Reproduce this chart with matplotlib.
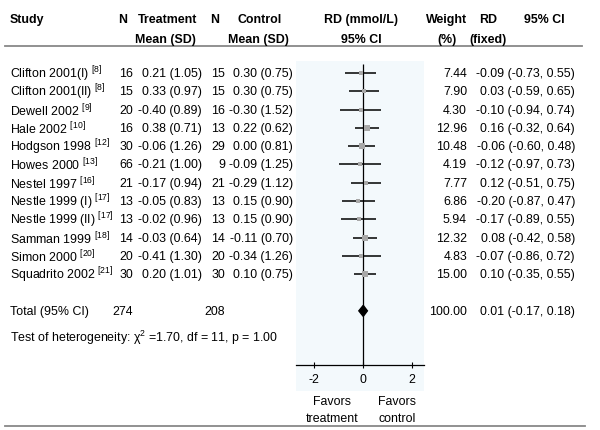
import numpy as np
import pandas as pd
import matplotlib.pyplot as plt
from matplotlib.patches import Polygon

plt.rcParams['font.family'] = ['Liberation Sans', 'DejaVu Sans']
plt.rcParams['mathtext.fontset'] = 'custom'
plt.rcParams['mathtext.rm'] = 'Liberation Sans'
plt.rcParams['mathtext.it'] = 'Liberation Sans:italic'
plt.rcParams['mathtext.default'] = 'regular'

# donnees
studies = ['Clifton 2001(I)', 'Clifton 2001(II)', 'Dewell 2002', 'Hale 2002',
           'Hodgson 1998', 'Howes 2000', 'Nestel 1997', 'Nestle 1999 (I)',
           'Nestle 1999 (II)', 'Samman 1999', 'Simon 2000', 'Squadrito 2002']
refs = ['8', '8', '9', '10', '12', '13', '16', '17', '17', '18', '20', '21']
n_t = [16, 15, 20, 16, 30, 66, 21, 13, 13, 14, 20, 30]
mean_t = [0.21, 0.33, -0.40, 0.38, -0.06, -0.21, -0.17, -0.05, -0.02, -0.03, -0.41, 0.20]
sd_t = [1.05, 0.97, 0.89, 0.71, 1.26, 1.00, 0.94, 0.83, 0.96, 0.64, 1.30, 1.01]
n_c = [15, 15, 16, 13, 29, 9, 21, 13, 13, 14, 20, 30]
mean_c = [0.30, 0.30, -0.30, 0.22, 0.00, -0.09, -0.29, 0.15, 0.15, -0.11, -0.34, 0.10]
sd_c = [0.75, 0.75, 1.52, 0.62, 0.81, 1.25, 1.12, 0.90, 0.90, 0.70, 1.26, 0.75]
weight = [7.44, 7.90, 4.30, 12.96, 10.48, 4.19, 7.77, 6.86, 5.94, 12.32, 4.83, 15.00]
rd = [-0.09, 0.03, -0.10, 0.16, -0.06, -0.12, 0.12, -0.20, -0.17, 0.08, -0.07, 0.10]
rd_lo = [-0.73, -0.59, -0.94, -0.32, -0.60, -0.97, -0.51, -0.87, -0.89, -0.42, -0.86, -0.35]
rd_hi = [0.55, 0.65, 0.74, 0.64, 0.48, 0.73, 0.75, 0.47, 0.55, 0.58, 0.72, 0.55]

total_nt, total_nc = 274, 208
total_w, total_rd, total_lo, total_hi = 100.00, 0.01, -0.17, 0.18
het_text = r'Test of heterogeneity: $\chi^2$ =1.70, df = 11, p = 1.00'
xticks = [-2, 0, 2]

df = pd.DataFrame({'study': studies, 'ref': refs, 'nt': n_t, 'mt': mean_t, 'st': sd_t,
                   'nc': n_c, 'mc': mean_c, 'sc': sd_c, 'w': weight,
                   'rd': rd, 'lo': rd_lo, 'hi': rd_hi})

fs = 8.9
fig = plt.figure(figsize=(6, 4.31), dpi=100)
ax = fig.add_axes([0, 0, 1, 1])
ax.set_xlim(0, 600)
ax.set_ylim(431, 0)
ax.axis('off')

# en-tete
hb = dict(fontsize=fs, fontweight='bold', va='center')
ax.text(10, 20, 'Study', ha='left', **hb)
ax.text(123, 20, 'N', ha='center', **hb)
ax.text(168, 20, 'Treatment', ha='center', **hb)
ax.text(165, 40, 'Mean (SD)', ha='center', **hb)
ax.text(215, 20, 'N', ha='center', **hb)
ax.text(260, 20, 'Control', ha='center', **hb)
ax.text(258, 40, 'Mean (SD)', ha='center', **hb)
ax.text(361, 20, 'RD (mmol/L)', ha='center', **hb)
ax.text(361, 40, '95% CI', ha='center', **hb)
ax.text(447, 20, 'Weight', ha='center', **hb)
ax.text(447, 40, '(%)', ha='center', **hb)
ax.text(488, 20, 'RD', ha='center', **hb)
ax.text(488, 40, '(fixed)', ha='center', **hb)
ax.text(544, 20, '95% CI', ha='center', **hb)
ax.plot([5, 582], [47, 47], color='#888888', lw=1.3)
ax.plot([5, 585], [427, 427], color='#888888', lw=1.3)

row0, dy = 74, 18.3
tb = dict(fontsize=fs, va='center')
for i, r in df.iterrows():
    y = row0 + i * dy
    ax.text(10, y, r['study'] + r' $^{[' + r['ref'] + ']}$', ha='left', **tb)
    ax.text(133, y, str(r['nt']), ha='right', **tb)
    ax.text(202, y, f"{r['mt']:.2f} ({r['st']:.2f})", ha='right', **tb)
    ax.text(225, y, str(r['nc']), ha='right', **tb)
    ax.text(293, y, f"{r['mc']:.2f} ({r['sc']:.2f})", ha='right', **tb)
    ax.text(467, y, f"{r['w']:.2f}", ha='right', **tb)
    ax.text(575, y, f"{r['rd']:.2f} ({r['lo']:.2f}, {r['hi']:.2f})", ha='right', **tb)

yt = row0 + 13 * dy
ax.text(10, yt, 'Total (95% CI)', ha='left', **tb)
ax.text(133, yt, str(total_nt), ha='right', **tb)
ax.text(225, yt, str(total_nc), ha='right', **tb)
ax.text(467, yt, f"{total_w:.2f}", ha='right', **tb)
ax.text(575, yt, f"{total_rd:.2f} ({total_lo:.2f}, {total_hi:.2f})", ha='right', **tb)
ax.text(10, 338, het_text, ha='left', **tb)

ax.text(332, 402, 'Favors', ha='center', **tb)
ax.text(332, 419, 'treatment', ha='center', **tb)
ax.text(397, 402, 'Favors', ha='center', **tb)
ax.text(397, 419, 'control', ha='center', **tb)

# graphique en foret
fa = fig.add_axes([296 / 600, 39 / 431, 128 / 600, 330 / 431])
fa.set_facecolor('#f3f9fc')
fa.set_xlim(-2.735, 2.49)
fa.set_ylim(17.38, -0.656)
for s in ['top', 'left', 'right']:
    fa.spines[s].set_visible(False)
axis_row = 15.96
fa.spines['bottom'].set_position(('data', axis_row))
fa.spines['bottom'].set_linewidth(0.9)
fa.set_yticks([])
fa.set_xticks(xticks)
fa.set_xticklabels([str(t) for t in xticks], fontsize=fs, fontstretch='condensed')
fa.tick_params(axis='x', direction='inout', length=5, width=0.8, pad=3)

rows = np.arange(len(df))
fa.vlines(0, -0.5, axis_row, color='black', lw=0.9)
fa.hlines(rows, df['lo'], df['hi'], color='black', lw=1.1)
for i, r in df.iterrows():
    fa.plot(r['rd'], i, marker='s', color='#a8a8a8', markersize=np.sqrt(r['w']) * 1.25,
            markeredgewidth=0, zorder=3)
h = 0.3
fa.add_patch(Polygon([(total_lo, 13), (total_rd, 13 - h), (total_hi, 13), (total_rd, 13 + h)],
                     closed=True, color='black', zorder=4))

plt.savefig('out.png', dpi=100)
